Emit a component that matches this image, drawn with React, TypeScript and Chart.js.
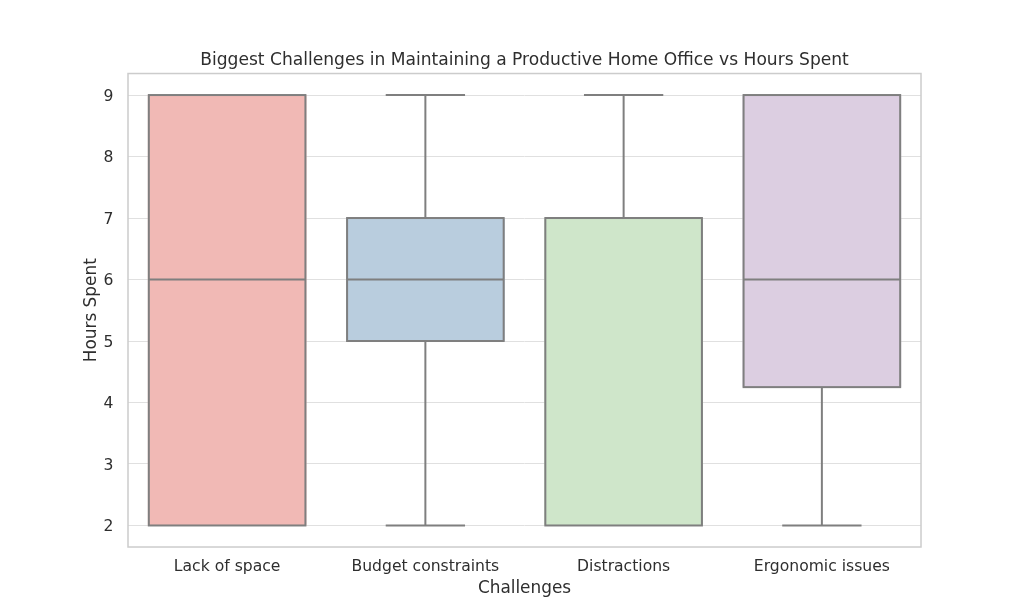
import React, { useEffect, useRef } from "react";
import { Chart, registerables } from "chart.js";

Chart.register(...registerables);

const categories = ["Lack of space", "Budget constraints", "Distractions", "Ergonomic issues"];
const mins = [2, 2, 2, 2];
const q1s = [2, 5, 2, 4.25];
const medians = [6, 6, 7, 6];
const q3s = [9, 7, 7, 9];
const maxs = [9, 9, 9, 9];
const yTicks = [2, 3, 4, 5, 6, 7, 8, 9];
const boxColors = ["#f1b9b5", "#b9cdde", "#cfe6ca", "#dccee1"];

const LINE = "#7f7f7f";
const TEXT = "#2e2e2e";
const FONT = "DejaVu Sans";

const boxPlugin = {
  id: "boxWhiskers",
  afterDatasetsDraw(chart: any) {
    const ctx = chart.ctx;
    const y = chart.scales.y;
    const meta = chart.getDatasetMeta(0);
    ctx.save();
    ctx.strokeStyle = LINE;
    ctx.lineWidth = 2;
    const line = (x1: number, y1: number, x2: number, y2: number) => {
      ctx.beginPath();
      ctx.moveTo(x1, y1);
      ctx.lineTo(x2, y2);
      ctx.stroke();
    };
    meta.data.forEach((bar: any, i: number) => {
      const x = bar.x;
      const w = bar.width;
      const pMax = y.getPixelForValue(maxs[i]);
      const pMin = y.getPixelForValue(mins[i]);
      const pQ1 = y.getPixelForValue(q1s[i]);
      const pQ3 = y.getPixelForValue(q3s[i]);
      const pMed = y.getPixelForValue(medians[i]);
      ctx.strokeRect(x - w / 2 + 1, pQ3, w - 2, pQ1 - pQ3);
      if (maxs[i] > q3s[i]) {
        line(x, pQ3, x, pMax);
        line(x - w / 4, pMax, x + w / 4, pMax);
      }
      if (mins[i] < q1s[i]) {
        line(x, pQ1, x, pMin);
        line(x - w / 4, pMin, x + w / 4, pMin);
      }
      line(x - w / 2 + 1, pMed, x + w / 2 - 1, pMed);
    });
    ctx.restore();
  },
  afterDraw(chart: any) {
    const { ctx, chartArea } = chart;
    ctx.save();
    ctx.strokeStyle = "#cccccc";
    ctx.lineWidth = 1.5;
    ctx.strokeRect(chartArea.left, chartArea.top, chartArea.right - chartArea.left, chartArea.bottom - chartArea.top);
    ctx.restore();
  },
};

export default function App() {
  const ref = useRef<HTMLCanvasElement>(null);
  useEffect(() => {
    if (!ref.current) return;
    const chart = new Chart(ref.current, {
      type: "bar",
      data: {
        labels: categories,
        datasets: [
          {
            data: categories.map((_, i) => [q1s[i], q3s[i]]) as any,
            backgroundColor: boxColors,
            borderWidth: 0,
            categoryPercentage: 1,
            barPercentage: 0.8,
          },
        ],
      },
      options: {
        responsive: false,
        animation: false,
        layout: { padding: { left: 0, right: 103, top: 0, bottom: 0 } },
        plugins: {
          legend: { display: false },
          tooltip: { enabled: false },
          title: {
            display: true,
            text: "Biggest Challenges in Maintaining a Productive Home Office vs Hours Spent",
            color: TEXT,
            font: { family: FONT, size: 17.1, weight: "normal" },
            padding: { top: 50.5, bottom: 2.5 },
            fullSize: false,
          },
        },
        scales: {
          x: {
            type: "category",
            offset: true,
            grid: { display: false },
            border: { display: false },
            ticks: { color: TEXT, font: { family: FONT, size: 15.6 }, padding: 2.8, maxRotation: 0 },
            title: {
              display: true,
              text: "Challenges",
              color: TEXT,
              font: { family: FONT, size: 16.9 },
              padding: { top: 0, bottom: 15.5 },
            },
            afterFit: (s: any) => {
              s.height = 67;
            },
          },
          y: {
            type: "linear",
            min: 1.65,
            max: 9.35,
            grid: { color: "#e0e0e0", lineWidth: 1, drawTicks: false },
            border: { display: false },
            afterBuildTicks: (s: any) => {
              s.ticks = yTicks.map((v) => ({ value: v }));
            },
            ticks: { color: TEXT, font: { family: FONT, size: 15.6 }, padding: 14.5, labelOffset: 1.5 },
            title: {
              display: true,
              text: "Hours Spent",
              color: TEXT,
              font: { family: FONT, size: 16.9 },
              padding: { top: 81, bottom: 0 },
            },
            afterFit: (s: any) => {
              s.width = 128;
            },
          },
        },
      },
      plugins: [boxPlugin],
    });
    return () => chart.destroy();
  }, []);
  return (
    <div style={{ position: "fixed", left: 0, top: 0, width: 1024, height: 614, background: "#fff" }}>
      <canvas ref={ref} width={1024} height={614} />
    </div>
  );
}
